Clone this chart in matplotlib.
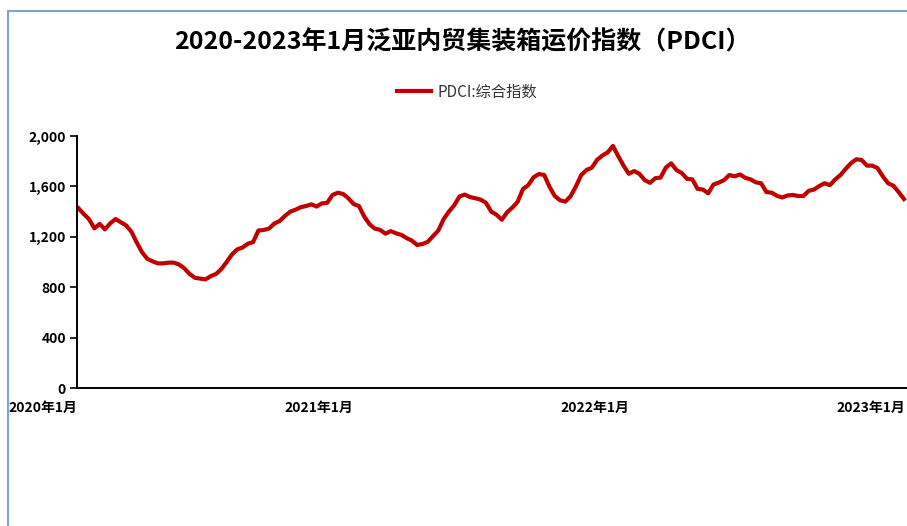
import matplotlib
matplotlib.use("Agg")
import matplotlib.pyplot as plt
from matplotlib.patches import Rectangle
import pandas as pd

plt.rcParams['font.family'] = ['Noto Sans CJK SC', 'DejaVu Sans']

title = "2020-2023年1月泛亚内贸集装箱运价指数（PDCI）"
series_name = "PDCI:综合指数"

# weekly index values
pdci = [
    1426, 1381, 1339, 1267, 1302, 1259, 1307, 1341, 1315, 1290,
    1240, 1155, 1078, 1025, 1005, 989, 989, 995, 995, 980,
    950, 905, 875, 868, 862, 888, 905, 945, 1000, 1060,
    1100, 1115, 1145, 1158, 1250, 1254, 1265, 1305, 1325, 1365,
    1399, 1415, 1435, 1444, 1458, 1440, 1465, 1470, 1532, 1550,
    1540, 1506, 1460, 1444, 1360, 1300, 1265, 1255, 1225, 1245,
    1228, 1215, 1190, 1170, 1135, 1143, 1160, 1205, 1250, 1340,
    1400, 1450, 1520, 1535, 1515, 1506, 1495, 1470, 1400, 1375,
    1335, 1395, 1432, 1479, 1580, 1610, 1672, 1698, 1691, 1598,
    1524, 1490, 1479, 1522, 1600, 1690, 1730, 1748, 1810, 1845,
    1870, 1921, 1840, 1765, 1700, 1722, 1700, 1650, 1628, 1665,
    1670, 1750, 1783, 1730, 1706, 1660, 1656, 1580, 1575, 1545,
    1615, 1630, 1650, 1690, 1680, 1695, 1668, 1656, 1632, 1625,
    1555, 1550, 1525, 1512, 1528, 1532, 1524, 1524, 1565, 1575,
    1603, 1625, 1610, 1655, 1690, 1740, 1785, 1815, 1810, 1765,
    1765, 1745, 1680, 1625, 1605, 1555, 1500,
]
dates = pd.date_range("2020-01-03", periods=len(pdci), freq="7D")

tick_dates = pd.to_datetime(["2020-01-01", "2021-01-01", "2022-01-01", "2023-01-01"])
tick_labels = ["2020年1月", "2021年1月", "2022年1月", "2023年1月"]
y_ticks = [0, 400, 800, 1200, 1600, 2000]

fig = plt.figure(figsize=(9.07, 5.26), dpi=100)
ax = fig.add_axes([77 / 907, 1 - 388 / 526, 1 - 77 / 907, 252 / 526])

line, = ax.plot(dates, pdci, color="#C00000", lw=3, solid_joinstyle="round")

ax.set_ylim(0, 2000)
ax.set_yticks(y_ticks)
ax.set_yticklabels([f"{v:,}" for v in y_ticks], fontsize=10, fontweight="bold")
ax.set_xlim(dates[0] - pd.Timedelta(days=1), dates[-1] + pd.Timedelta(days=4))
ax.set_xticks(tick_dates)
ax.set_xticklabels(tick_labels, fontsize=10, fontweight="bold", ha="right")
ax.tick_params(axis="x", length=0, pad=9)
ax.tick_params(axis="y", length=5, width=1.2, pad=3, direction="out")

for s in ["top", "right"]:
    ax.spines[s].set_visible(False)
for s in ["left", "bottom"]:
    ax.spines[s].set_linewidth(1.4)

fig.text(0.510, 1 - 42 / 526, title, ha="center", va="center",
         fontsize=18, fontweight="bold")
leg = fig.legend([line], [series_name], loc="center", bbox_to_anchor=(0.515, 1 - 92 / 526),
                 frameon=False, handlelength=2.2, handletextpad=0.4,
                 prop={"size": 11})
for t in leg.get_texts():
    t.set_color("#333333")

# outer chart frame (cropped on the right and bottom)
fig.patches.append(Rectangle((8 / 907, -0.1), 1.2, 1 - 11 / 526 + 0.1,
                             transform=fig.transFigure, fill=False,
                             edgecolor="#7DA3D6", lw=1.5))

fig.savefig("out.png", dpi=100)
